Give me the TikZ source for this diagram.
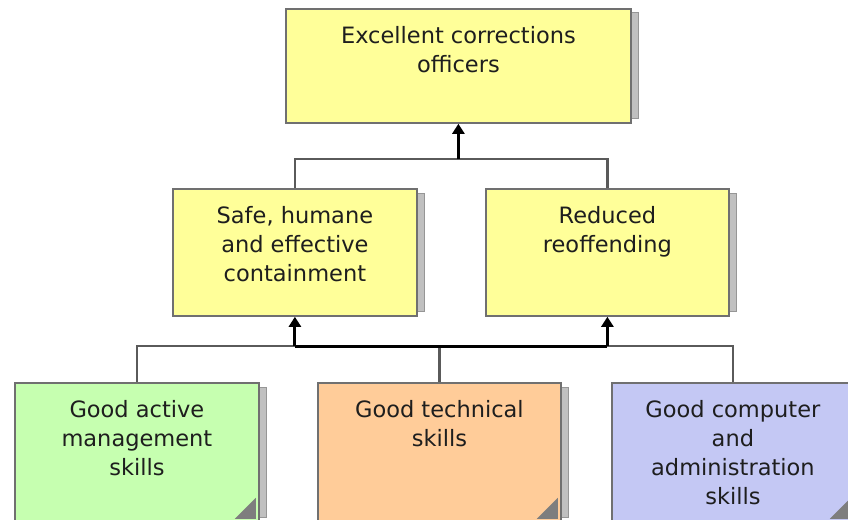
\documentclass[tikz,border=0pt]{standalone}
\usepackage{fontspec}
\setmainfont{DejaVu Sans}
\usetikzlibrary{arrows.meta,backgrounds,calc}
\definecolor{boxyellow}{RGB}{255,255,153}
\definecolor{boxgreen}{RGB}{198,255,176}
\definecolor{boxorange}{RGB}{255,204,153}
\definecolor{boxblue}{RGB}{196,200,244}
\definecolor{boxborder}{RGB}{112,112,112}
\definecolor{shadowfill}{RGB}{192,192,192}
\definecolor{shadowline}{RGB}{150,150,150}
\definecolor{connline}{RGB}{90,90,90}
\definecolor{txt}{RGB}{30,30,30}
\newcommand{\boxtxt}[3]{\parbox[t][#2pt][t]{#1pt}{\centering\fontsize{22.5}{29}\selectfont\rule{0pt}{34.5pt}#3\par}}
\tikzset{
  goalbox/.style={draw=boxborder, line width=1.8pt, inner sep=0pt, anchor=north west, text=txt},
  conn/.style={draw=connline, line width=2.2pt},
  trunk/.style={draw=black, line width=3pt},
  tip/.style={-{Triangle[length=10pt,width=12pt]}},
  shadowbox/.style={fill=shadowfill, draw=shadowline, line width=1pt},
  cornermark/.style={fill=boxborder!90, draw=none}
}
\begin{document}
\begin{tikzpicture}[x=1pt,y=-1pt]
\useasboundingbox (0,0) rectangle (848,519);
\clip (0,0) rectangle (848,519);
% boxes
\node[goalbox, fill=boxyellow] (top) at (285,8) {\boxtxt{345}{114}{Excellent corrections\\officers}};
\node[goalbox, fill=boxyellow] (ml) at (172,188) {\boxtxt{244}{127}{Safe, humane\\and effective\\containment}};
\node[goalbox, fill=boxyellow] (mr) at (485,188) {\boxtxt{243}{127}{Reduced\\reoffending}};
\node[goalbox, fill=boxgreen] (bl) at (14,382) {\boxtxt{244}{140}{Good active\\management\\skills}};
\node[goalbox, fill=boxorange] (bm) at (317,382) {\boxtxt{243}{140}{Good technical\\skills}};
\node[goalbox, fill=boxblue] (br) at (611,382) {\boxtxt{242}{140}{Good computer\\and\\administration\\skills}};
% shadows
\begin{pgfonlayer}{background}
\foreach \n in {top,ml,mr} {
  \path[shadowbox] ($(\n.north west)+(7,5)$) rectangle ($(\n.south east)+(7,-5)$);
}
\foreach \n in {bl,bm,br} {
  \path[shadowbox] ($(\n.north west)+(7,5)$) rectangle ($(\n.south east)+(7,-6)$);
}
\end{pgfonlayer}
% corner marks
\foreach \n in {bl,bm,br} {
  \fill[cornermark] ($(\n.south east)+(-25,-5)$) -- ($(\n.south east)+(-4,-26)$) -- ($(\n.south east)+(-4,-5)$) -- cycle;
}
% bus coordinates
\coordinate (busT) at (0,159);
\coordinate (busB) at (0,346);
% lower connectors
\draw[conn] (bl.north) |- (busB -| ml.south);
\draw[conn] (bm.north) -- (busB -| bm.north);
\draw[conn] (br.north) |- (busB -| mr.south);
\draw[trunk] (busB -| ml.south) -- (busB -| mr.south);
\draw[trunk,tip] (busB -| ml.south) -- (ml.south);
\draw[trunk,tip] (busB -| mr.south) -- (mr.south);
% upper connectors
\draw[conn] (ml.north) |- (busT -| mr.north) -- (mr.north);
\draw[trunk,tip] (busT -| top.south) -- (top.south);
\end{tikzpicture}
\end{document}
